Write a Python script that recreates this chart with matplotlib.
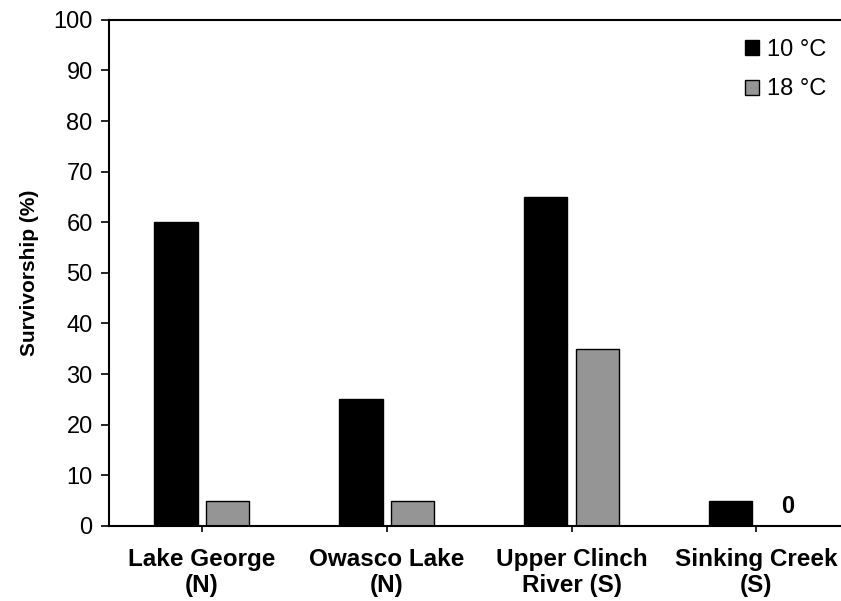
import numpy as np
import matplotlib.pyplot as plt

plt.rcParams['font.family'] = ['Liberation Sans', 'DejaVu Sans']

sites = ["Lake George\n(N)", "Owasco Lake\n(N)", "Upper Clinch\nRiver (S)", "Sinking Creek\n(S)"]
surv_10 = [60, 25, 65, 5]
surv_18 = [5, 5, 35, 0]

fig = plt.figure(figsize=(8.41, 6.01), dpi=100)
ax = fig.add_axes([0.130, 0.125, 0.875, 0.842])

x = np.arange(len(sites))
w = 0.234
ax.bar(x - 0.139, surv_10, w, color="black", edgecolor="black", linewidth=1, label="10 °C")
ax.bar(x + 0.139, surv_18, w, color="#959595", edgecolor="black", linewidth=1, label="18 °C")

# zero value marker
for i, v in enumerate(surv_18):
    if v == 0:
        ax.text(x[i] + 0.17, 1.6, "0", ha="center", va="bottom", fontsize=17, fontweight="bold")

ax.set_xlim(-0.5, 3.48)
ax.set_ylim(0, 100)
ax.set_yticks(range(0, 101, 10))
ax.set_xticks(x)
ax.set_xticklabels(sites, fontsize=17.5, fontweight="bold", linespacing=1.15)
ax.tick_params(axis="y", labelsize=17, length=6, width=1.2, direction="out", pad=6)
ax.tick_params(axis="x", length=4, width=1.2, direction="out", pad=12)
ax.set_ylabel("Survivorship (%)", fontsize=15, fontweight="bold", labelpad=10)

for s in ["left", "bottom", "top"]:
    ax.spines[s].set_linewidth(1.5)
ax.spines["right"].set_visible(False)

ax.legend(loc="upper right", frameon=False, fontsize=17, handlelength=0.6, handleheight=0.6,
          handletextpad=0.35, labelspacing=0.75, borderaxespad=0.4)

fig.savefig("out.png", dpi=100)
